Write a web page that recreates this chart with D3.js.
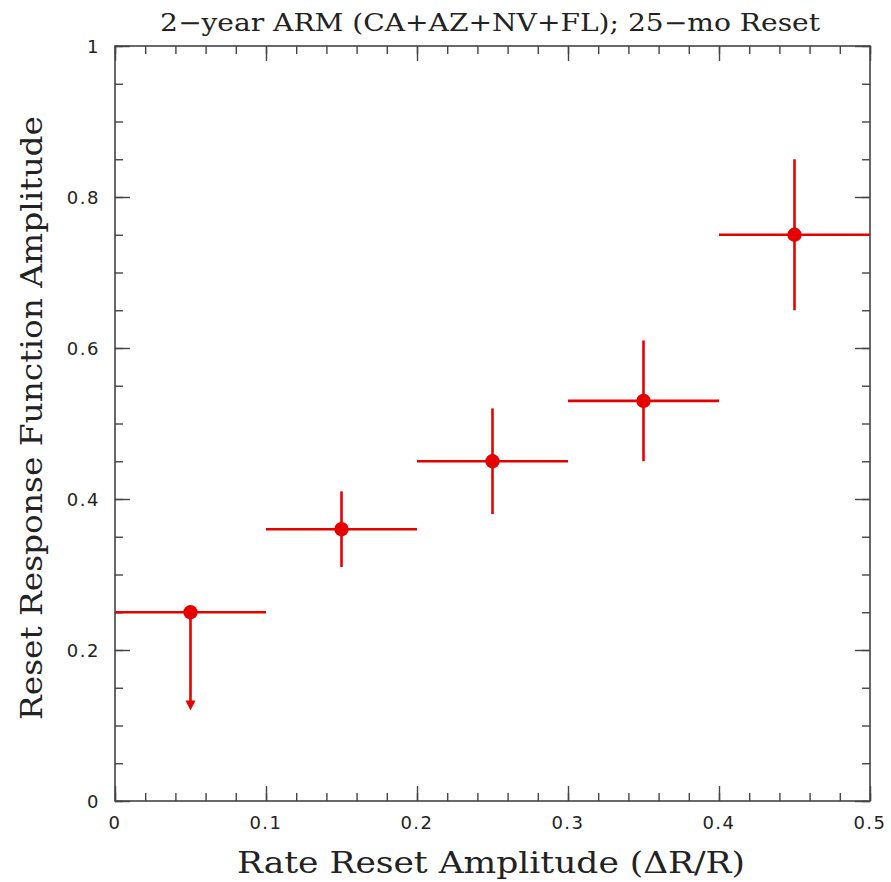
<!DOCTYPE html>
<html><head><meta charset="utf-8">
<script src="https://cdn.jsdelivr.net/npm/d3@7"></script>
<style>body{margin:0;background:#fff}svg{display:block}</style>
</head><body>
<script>
const xVals = [0.05, 0.15, 0.25, 0.35, 0.45];
const xErr = [0.05, 0.05, 0.05, 0.05, 0.05];
const yVals = [0.25, 0.36, 0.45, 0.53, 0.75];
const yLow = [0.12, 0.31, 0.38, 0.45, 0.65];
const yHigh = [0.25, 0.41, 0.52, 0.61, 0.85];
const upperLimit = [true, false, false, false, false];
const xTicks = [0, 0.1, 0.2, 0.3, 0.4, 0.5];
const yTicks = [0, 0.2, 0.4, 0.6, 0.8, 1];
const title = "2\u2212year ARM (CA+AZ+NV+FL); 25\u2212mo Reset";
const xLabel = "Rate Reset Amplitude (\u0394R/R)";
const yLabel = "Reset Response Function Amplitude";

const W = 891, H = 882;
const L = 115, R = 870, T = 46, B = 801;
const svg = d3.select("body").append("svg").attr("width", W).attr("height", H);
const x = d3.scaleLinear().domain([0, 0.5]).range([L, R]);
const y = d3.scaleLinear().domain([0, 1]).range([B, T]);
const axisColor = "#444";
const red = "#e60000";

function tickFmt(d){ return d === 0 ? "0" : d === 1 ? "1" : d3.format(".1f")(d); }

const xMinor = d3.range(0, 0.5001, 0.02);
const yMinor = d3.range(0, 1.0001, 0.05);
function addAxis(axis, tr, minor, major){
  const gMin = svg.append("g").attr("transform", tr)
    .call(axis(minor).tickSize(8).tickFormat(""));
  const gMaj = svg.append("g").attr("transform", tr)
    .call(axis(major).tickSize(15).tickFormat(""));
  [gMin, gMaj].forEach(g => {
    g.selectAll(".domain").remove();
    g.selectAll("line").attr("stroke", axisColor).attr("stroke-width", 1.4);
  });
}
addAxis(s => d3.axisTop(x).tickValues(s), `translate(0,${B})`, xMinor, xTicks);
addAxis(s => d3.axisBottom(x).tickValues(s), `translate(0,${T})`, xMinor, xTicks);
addAxis(s => d3.axisRight(y).tickValues(s), `translate(${L},0)`, yMinor, yTicks);
addAxis(s => d3.axisLeft(y).tickValues(s), `translate(${R},0)`, yMinor, yTicks);

svg.append("rect").attr("x", L).attr("y", T).attr("width", R - L).attr("height", B - T)
  .attr("fill", "none").attr("stroke", axisColor).attr("stroke-width", 1.6);

const tf = "'DejaVu Sans', sans-serif";
svg.append("g").selectAll("text").data(xTicks).join("text")
  .attr("x", d => x(d)).attr("y", 829).attr("text-anchor", "middle")
  .attr("font-family", tf).attr("font-size", 18).attr("letter-spacing", 1.5).attr("fill", "#222").text(tickFmt);
svg.append("g").selectAll("text").data(yTicks).join("text")
  .attr("x", 100).attr("y", d => y(d) + 7).attr("text-anchor", "end")
  .attr("font-family", tf).attr("font-size", 18).attr("letter-spacing", 1.5).attr("fill", "#222").text(tickFmt);

const sf = "'DejaVu Serif', serif";
svg.append("text").attr("x", 490).attr("y", 31).attr("text-anchor", "middle")
  .attr("font-family", sf).attr("font-size", 24).attr("fill", "#222")
  .attr("textLength", 660).attr("lengthAdjust", "spacingAndGlyphs").text(title);
svg.append("text").attr("x", 491).attr("y", 873).attr("text-anchor", "middle")
  .attr("font-family", sf).attr("font-size", 29).attr("fill", "#222")
  .attr("textLength", 508).attr("lengthAdjust", "spacingAndGlyphs").text(xLabel);
svg.append("text").attr("transform", "translate(42,418) rotate(-90)").attr("text-anchor", "middle")
  .attr("font-family", sf).attr("font-size", 29).attr("fill", "#222")
  .attr("textLength", 604).attr("lengthAdjust", "spacingAndGlyphs").text(yLabel);

const data = xVals.map((v, i) => ({x: v, xe: xErr[i], y: yVals[i], lo: yLow[i], hi: yHigh[i], ul: upperLimit[i]}));
const g = svg.append("g");
g.selectAll(".xe").data(data).join("line")
  .attr("x1", d => x(d.x - d.xe)).attr("x2", d => x(d.x + d.xe))
  .attr("y1", d => y(d.y)).attr("y2", d => y(d.y))
  .attr("stroke", red).attr("stroke-width", 2.6);
g.selectAll(".ye").data(data).join("line")
  .attr("x1", d => x(d.x)).attr("x2", d => x(d.x))
  .attr("y1", d => y(d.hi)).attr("y2", d => d.ul ? y(d.lo) - 8 : y(d.lo))
  .attr("stroke", red).attr("stroke-width", 2.6);
g.selectAll(".arr").data(data.filter(d => d.ul)).join("path")
  .attr("d", d => { const cx = x(d.x), ty = y(d.lo); return `M${cx - 5},${ty - 10}L${cx + 5},${ty - 10}L${cx},${ty}Z`; })
  .attr("fill", red);
g.selectAll("circle").data(data).join("circle")
  .attr("cx", d => x(d.x)).attr("cy", d => y(d.y)).attr("r", 7.2).attr("fill", red);
</script>
</body></html>
